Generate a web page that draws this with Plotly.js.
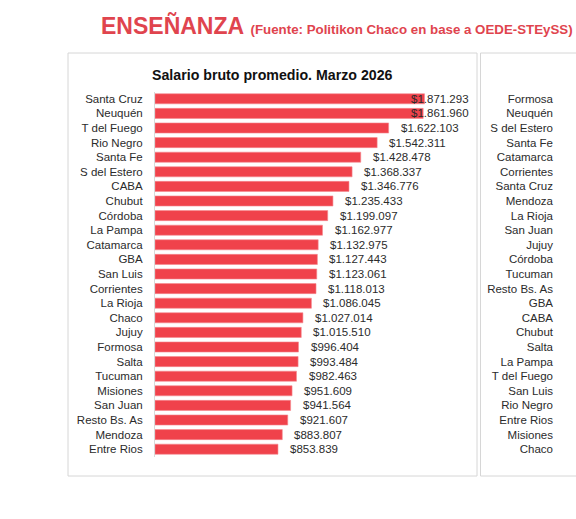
<!DOCTYPE html>
<html>
<head>
<meta charset="utf-8">
<script src="https://cdn.plot.ly/plotly-3.0.1.min.js"></script>
<style>
  html, body { margin: 0; padding: 0; background: #ffffff; }
  #chart { width: 576px; height: 519px; }
</style>
</head>
<body>
<div id="chart"></div>
<script>
// Salario bruto promedio por jurisdicción, Marzo 2026 (Enseñanza)
const provincias = [
  "Santa Cruz", "Neuquén", "T del Fuego", "Rio Negro", "Santa Fe",
  "S del Estero", "CABA", "Chubut", "Córdoba", "La Pampa",
  "Catamarca", "GBA", "San Luis", "Corrientes", "La Rioja",
  "Chaco", "Jujuy", "Formosa", "Salta", "Tucuman",
  "Misiones", "San Juan", "Resto Bs. As", "Mendoza", "Entre Rios"
];
const salarios = [
  1871293, 1861960, 1622103, 1542311, 1428478,
  1368337, 1346776, 1235433, 1199097, 1162977,
  1132975, 1127443, 1123061, 1118013, 1086045,
  1027014, 1015510, 996404, 993484, 982463,
  951609, 941564, 921607, 883807, 853839
];
// Orden de jurisdicciones del panel contiguo
const provinciasPanel2 = [
  "Formosa", "Neuquén", "S del Estero", "Santa Fe", "Catamarca",
  "Corrientes", "Santa Cruz", "Mendoza", "La Rioja", "San Juan",
  "Jujuy", "Córdoba", "Tucuman", "Resto Bs. As", "GBA",
  "CABA", "Chubut", "Salta", "La Pampa", "T del Fuego",
  "San Luis", "Rio Negro", "Entre Rios", "Misiones", "Chaco"
];

const W = 576, H = 519;
const px = v => v / W;          // horizontal pixel -> paper
const py = v => 1 - v / H;      // vertical pixel -> paper

const FONT = "Liberation Sans, Arial, sans-serif";
const RED = "#f0424b";
const TITLE_RED = "#e0444e";

function pesos(n) {
  return "$" + String(n).replace(/\B(?=(\d{3})+(?!\d))/g, ".");
}

// x axis geometry
const plotLeft = 155, plotRight = 471;
const xMax = 2194000;
const unitsPerPx = xMax / (plotRight - plotLeft);
const labelGap = 10;      // px between bar end and its value
const labelWidth = 58;    // approx width of a value label, px

const annotations = salarios.map((v, i) => {
  const fits = v + (labelGap + labelWidth) * unitsPerPx <= xMax;
  return {
    xref: "x", yref: "y",
    x: fits ? v : xMax,
    y: provincias[i],
    text: pesos(v),
    showarrow: false,
    xanchor: fits ? "left" : "right",
    xshift: fits ? labelGap : 0,
    font: { family: FONT, size: 11.5, color: "#2b2b2b" }
  };
});

// titles
annotations.push({
  xref: "paper", yref: "paper", x: px(99), y: py(41), yanchor: "bottom", xanchor: "left",
  showarrow: false,
  text: "<b>ENSEÑANZA</b> <b><span style='font-size:13.3px'>(Fuente: Politikon Chaco en base a OEDE-STEySS)</span></b>",
  font: { family: FONT, size: 23, color: TITLE_RED }
});
annotations.push({
  xref: "paper", yref: "paper", x: px(272.5), y: py(75), yanchor: "middle", xanchor: "center",
  showarrow: false,
  text: "<b>Salario bruto promedio. Marzo 2026</b>",
  font: { family: FONT, size: 14.2, color: "#111111" }
});

const traces = [
  {
    type: "bar", orientation: "h",
    x: salarios, y: provincias,
    marker: { color: RED, line: { color: "#f58a90", width: 0.6 } },
    hoverinfo: "x+y",
    xaxis: "x", yaxis: "y"
  },
  {
    type: "scatter", mode: "markers",
    x: provinciasPanel2.map(() => 0), y: provinciasPanel2,
    marker: { opacity: 0 },
    hoverinfo: "skip",
    xaxis: "x2", yaxis: "y2"
  }
];

const yDomain = [py(456.5), py(91.5)];

const layout = {
  width: W, height: H,
  margin: { l: 0, r: 0, t: 0, b: 0 },
  paper_bgcolor: "#ffffff",
  plot_bgcolor: "rgba(0,0,0,0)",
  showlegend: false,
  bargap: 0.31,
  xaxis: {
    domain: [px(plotLeft), px(plotRight)],
    range: [0, xMax],
    showgrid: false, zeroline: false, showticklabels: false, showline: false
  },
  yaxis: {
    domain: yDomain,
    type: "category",
    categoryarray: provincias,
    tickmode: "array", tickvals: provincias, ticktext: provincias,
    range: [provincias.length - 0.5, -0.5],
    showgrid: false, zeroline: false,
    showline: true, linecolor: "#d9d9d9", linewidth: 1,
    ticks: "", ticklabelstandoff: 9,
    tickfont: { family: FONT, size: 11.5, color: "#2b2b2b" }
  },
  xaxis2: {
    domain: [px(565), 1],
    range: [0, 1],
    showgrid: false, zeroline: false, showticklabels: false, showline: false
  },
  yaxis2: {
    domain: yDomain,
    anchor: "x2",
    type: "category",
    categoryarray: provinciasPanel2,
    tickmode: "array", tickvals: provinciasPanel2, ticktext: provinciasPanel2,
    range: [provinciasPanel2.length - 0.5, -0.5],
    showgrid: false, zeroline: false, showline: false,
    ticks: "", ticklabelstandoff: 11,
    tickfont: { family: FONT, size: 11.5, color: "#2b2b2b" }
  },
  shapes: [
    {
      type: "rect", xref: "paper", yref: "paper",
      x0: px(68), x1: px(477), y0: py(476), y1: py(53),
      line: { color: "#d6d6d6", width: 1 }, fillcolor: "rgba(0,0,0,0)", layer: "below"
    },
    {
      type: "rect", xref: "paper", yref: "paper",
      x0: px(480.5), x1: px(590), y0: py(476), y1: py(53),
      line: { color: "#d6d6d6", width: 1 }, fillcolor: "rgba(0,0,0,0)", layer: "below"
    }
  ],
  annotations: annotations
};

Plotly.newPlot("chart", traces, layout, { displayModeBar: false, staticPlot: true });
</script>
</body>
</html>
